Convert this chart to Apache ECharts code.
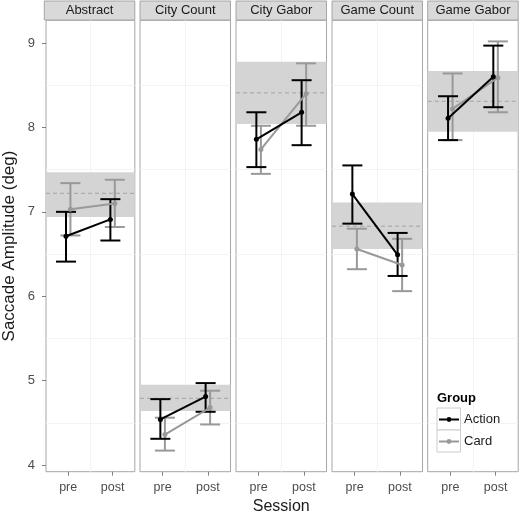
<!DOCTYPE html>
<html>
<head>
<meta charset="utf-8">
<script src="https://cdn.jsdelivr.net/npm/echarts@6/dist/echarts.min.js"></script>
<style>html,body{margin:0;padding:0;background:#fff}#c{width:520px;height:514px}</style>
</head>
<body>
<div id="c"></div>
<script>
// ---- data ----
const panels = ['Abstract', 'City Count', 'City Gabor', 'Game Count', 'Game Gabor'];
const sessions = ['pre', 'post'];
const groups = ['Action', 'Card'];
const actionMean = [[6.71, 6.91], [4.54, 4.81], [7.86, 8.18], [7.21, 6.49], [8.11, 8.60]];
const actionLow  = [[6.41, 6.66], [4.31, 4.63], [7.53, 7.79], [6.86, 6.24], [7.85, 8.24]];
const actionHigh = [[7.00, 7.15], [4.78, 4.97], [8.18, 8.56], [7.55, 6.75], [8.37, 8.97]];
const cardMean   = [[7.03, 7.10], [4.36, 4.68], [7.74, 8.40], [6.56, 6.37], [8.22, 8.59]];
const cardLow    = [[6.72, 6.82], [4.17, 4.48], [7.45, 8.02], [6.32, 6.06], [7.85, 8.18]];
const cardHigh   = [[7.34, 7.38], [4.56, 4.88], [8.02, 8.76], [6.80, 6.68], [8.64, 9.02]];
const bandLow  = [6.94, 4.64, 8.04, 6.56, 7.95];
const bandHigh = [7.47, 4.95, 8.78, 7.11, 8.67];
const bandMid  = [7.22, 4.79, 8.41, 6.83, 8.31];
const yTicks = [4, 5, 6, 7, 8, 9];
const yMinorGrid = [4.5, 5.5, 6.5, 7.5, 8.5];

// ---- layout / style ----
const FONT = '"Liberation Sans", Arial, sans-serif';
const gridLefts = [44.3, 140, 236, 332, 427.7];
const panelW = 90.5, panelTop = 20.3, panelBottom = 471.7;
const Y_MIN = 3.92, Y_MAX = 9.27;
const DODGE = 0.05;
const colors = { Action: '#000000', Card: '#999999' };

const grids = [], xAxes = [], yAxes = [], series = [], graphics = [];

function errRender(color) {
  return function (params, api) {
    const x = api.value(0), lo = api.value(1), hi = api.value(2);
    const a = api.coord([x, lo]), b = api.coord([x, hi]);
    const hw = 10;
    const style = { stroke: color, lineWidth: 2, fill: null };
    return {
      type: 'group', children: [
        { type: 'line', shape: { x1: a[0], y1: a[1], x2: b[0], y2: b[1] }, style },
        { type: 'line', shape: { x1: a[0] - hw, y1: a[1], x2: a[0] + hw, y2: a[1] }, style },
        { type: 'line', shape: { x1: b[0] - hw, y1: b[1], x2: b[0] + hw, y2: b[1] }, style }
      ]
    };
  };
}

function bandRender(params, api) {
  const cs = params.coordSys;
  const yLo = api.coord([1, api.value(0)])[1];
  const yHi = api.coord([1, api.value(1)])[1];
  const yMid = api.coord([1, api.value(2)])[1];
  return {
    type: 'group', children: [
      { type: 'rect', shape: { x: cs.x, y: yHi, width: cs.width, height: yLo - yHi }, style: { fill: '#d4d4d4' } },
      { type: 'line', shape: { x1: cs.x, y1: yMid, x2: cs.x + cs.width, y2: yMid },
        style: { stroke: '#a3a3a3', lineWidth: 1, lineDash: [4, 3], fill: null } }
    ]
  };
}

panels.forEach((name, i) => {
  grids.push({
    left: gridLefts[i], top: panelTop, width: panelW, height: panelBottom - panelTop,
    show: true, borderColor: '#a6a6a6', borderWidth: 1, backgroundColor: 'transparent'
  });
  xAxes.push({
    type: 'value', gridIndex: i, min: 0.5, max: 2.5,
    axisLine: { show: false }, splitLine: { show: false },
    axisTick: { show: true, customValues: [1, 2], length: 4, lineStyle: { color: '#7f7f7f' } },
    axisLabel: { show: true, customValues: [1, 2], formatter: v => sessions[Math.round(v) - 1],
      color: '#4d4d4d', fontSize: 12.5, fontFamily: FONT, margin: 9 }
  });
  yAxes.push({
    type: 'value', gridIndex: i, min: Y_MIN, max: Y_MAX,
    axisLine: { show: false }, splitLine: { show: false },
    axisTick: { show: i === 0, customValues: yTicks, length: 4, lineStyle: { color: '#7f7f7f' } },
    axisLabel: { show: i === 0, customValues: yTicks, color: '#4d4d4d', fontSize: 13, fontFamily: FONT, margin: 11 },
    name: i === 0 ? 'Saccade Amplitude (deg)' : '', nameLocation: 'middle', nameGap: 28, nameRotate: 90,
    nameMoveOverlap: false,
    nameTextStyle: { fontSize: 17, color: '#1a1a1a', fontFamily: FONT }
  });

  // faint grid lines (below the band)
  series.push({
    type: 'line', xAxisIndex: i, yAxisIndex: i, data: [], silent: true, z: 1,
    markLine: {
      silent: true, symbol: 'none', label: { show: false }, animation: false, z: 1,
      emphasis: { disabled: true },
      lineStyle: { color: '#f3f3f3', type: 'solid', width: 1, opacity: 1 },
      data: yMinorGrid.map(v => ({ yAxis: v })).concat([{ xAxis: 1.5 }])
    }
  });
  // reference band + dashed mean
  series.push({
    type: 'custom', name: 'band', xAxisIndex: i, yAxisIndex: i, z: 2, silent: true, animation: false,
    renderItem: bandRender,
    data: [[bandLow[i], bandHigh[i], bandMid[i]]]
  });

  const groupData = {
    Card: { mean: cardMean[i], low: cardLow[i], high: cardHigh[i], off: DODGE },
    Action: { mean: actionMean[i], low: actionLow[i], high: actionHigh[i], off: -DODGE }
  };
  ['Card', 'Action'].forEach(g => {
    const d = groupData[g];
    series.push({
      type: 'custom', name: g + ' error', xAxisIndex: i, yAxisIndex: i, z: 3,
      renderItem: errRender(colors[g]), animation: false, silent: true,
      data: sessions.map((s, k) => [k + 1 + d.off, d.low[k], d.high[k]])
    });
    series.push({
      type: 'line', name: g, xAxisIndex: i, yAxisIndex: i, z: 4, animation: false,
      symbol: 'circle', symbolSize: 5,
      itemStyle: { color: colors[g] },
      lineStyle: { color: colors[g], width: 2 },
      data: sessions.map((s, k) => [k + 1 + d.off, d.mean[k]])
    });
  });

  // strip
  graphics.push({
    type: 'rect', shape: { x: gridLefts[i], y: 1, width: panelW, height: 19 },
    style: { fill: '#d9d9d9', stroke: '#a6a6a6', lineWidth: 1 }
  });
  graphics.push({
    type: 'text', x: gridLefts[i] + panelW / 2, y: 10.5,
    style: { text: name, fill: '#1a1a1a', font: '13px ' + FONT, textAlign: 'center', textVerticalAlign: 'middle' }
  });
});

// x axis title
graphics.push({
  type: 'text', x: gridLefts[0] + (gridLefts[4] + panelW - gridLefts[0]) / 2, y: 506.5,
  style: { text: 'Session', fill: '#1a1a1a', font: '16px ' + FONT, textAlign: 'center', textVerticalAlign: 'middle' }
});

// legend decorations
graphics.push({ type: 'rect', shape: { x: 437, y: 408, width: 23.5, height: 22 }, style: { fill: '#ffffff', stroke: '#cccccc', lineWidth: 1 }, z: 5 });
graphics.push({ type: 'rect', shape: { x: 437, y: 430, width: 23.5, height: 22 }, style: { fill: '#ffffff', stroke: '#cccccc', lineWidth: 1 }, z: 5 });
graphics.push({ type: 'text', x: 437, y: 398, z: 6, style: { text: 'Group', fill: '#000', font: 'bold 13px ' + FONT, textVerticalAlign: 'middle' } });

const ICON = 'path://M0,1.8 L20,1.8 L20,3.6 L0,3.6 Z M12.4,2.7 A2.4,2.4 0 1 1 7.6,2.7 A2.4,2.4 0 1 1 12.4,2.7 Z';
function legendFor(name, centerY) {
  return {
    data: [name], orient: 'vertical', left: 439, top: centerY - 7, padding: 0, z: 10,
    icon: ICON, itemWidth: 20, itemHeight: 4.8, itemGap: 0, selectedMode: false,
    textStyle: { fontSize: 13, lineHeight: 14, color: '#1a1a1a', fontFamily: FONT, padding: [0, 0, 0, 0] }
  };
}

const chart = echarts.init(document.getElementById('c'), null, { renderer: 'canvas' });
chart.setOption({
  animation: false,
  backgroundColor: '#ffffff',
  grid: grids, xAxis: xAxes, yAxis: yAxes, series: series,
  legend: [legendFor('Action', 419.5), legendFor('Card', 441.5)],
  graphic: graphics
});
</script>
</body>
</html>
